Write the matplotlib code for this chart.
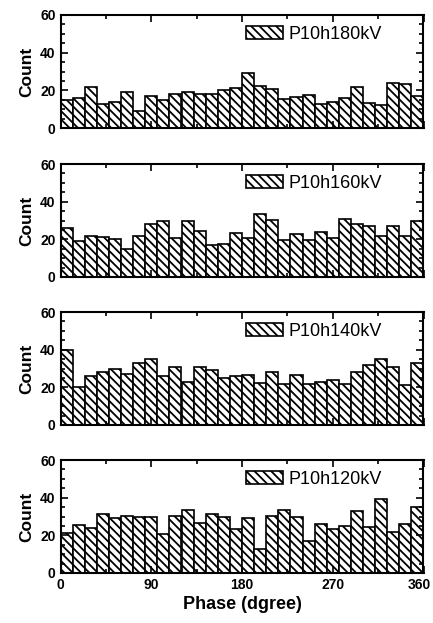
import numpy as np
import matplotlib.pyplot as plt
from matplotlib.ticker import MultipleLocator

plt.rcParams['font.family'] = ['Liberation Sans', 'DejaVu Sans']
plt.rcParams['hatch.linewidth'] = 1.3

# 30 bins of 12 degrees each
bin_width = 12
phase = np.arange(0, 360, bin_width)

labels = ["P10h180kV", "P10h160kV", "P10h140kV", "P10h120kV"]
xticks = [0, 90, 180, 270, 360]

count_180 = [15, 16, 22, 13, 14, 19, 9, 17, 15, 18, 19, 18, 18, 20, 21,
             29, 22.5, 20.5, 15.5, 16.5, 17.5, 13, 14, 16, 22, 13.5, 12, 24, 23.5, 17]
count_160 = [26, 19, 22, 21, 20, 15, 22, 28, 30, 20.5, 30, 24.5, 17, 17.5, 23.5,
             20.5, 33.5, 30.5, 19.5, 23, 19.5, 24, 20.5, 31, 28, 27, 22, 27, 22, 30]
count_140 = [40, 20, 26, 28, 30, 27, 33, 35, 26, 31, 23, 31, 29, 25, 26,
             26.5, 22.5, 28, 22, 26.5, 22, 23, 24, 22, 28, 32, 35, 31, 21, 33]
count_120 = [21, 25.5, 24, 31.5, 29, 30.5, 29.5, 29.5, 20.5, 30.5, 33.5, 26.5, 31.5, 29.5, 23.5,
             29, 12.5, 30.5, 33.5, 30, 17, 26, 23.5, 25, 33, 24.5, 39.5, 22, 26, 35]

series = [count_180, count_160, count_140, count_120]

fig = plt.figure(figsize=(4.33, 6.23), dpi=100)
W, H = 433, 623
tops = [15, 164, 312, 460]
panel_h = 113
left, right = 60.5, 423.5

for i, (lab, counts) in enumerate(zip(labels, series)):
    ax = fig.add_axes([left / W, 1 - (tops[i] + panel_h) / H,
                       (right - left) / W, panel_h / H])
    ax.bar(phase, counts, width=bin_width, align='edge', color='white',
           edgecolor='black', linewidth=1.2, hatch='\\\\\\\\', label=lab)
    ax.set_xlim(0, 360)
    ax.set_ylim(0, 60)
    ax.set_xticks(xticks)
    ax.xaxis.set_minor_locator(MultipleLocator(45))
    ax.yaxis.set_major_locator(MultipleLocator(20))
    ax.yaxis.set_minor_locator(MultipleLocator(5))
    ax.tick_params(which='both', direction='in', top=True, right=True, width=1.2)
    ax.tick_params(which='major', length=5, labelsize=10)
    ax.tick_params(which='minor', length=3)
    for s in ax.spines.values():
        s.set_linewidth(1.5)
    for t in ax.get_yticklabels():
        t.set_fontweight('bold')
    ax.set_ylabel("Count", fontsize=12.5, fontweight='bold', labelpad=4)
    if i < 3:
        ax.set_xticklabels([])
    else:
        # last label drawn separately, nudged left so it stays inside the figure
        ax.set_xticklabels([str(v) for v in xticks[:-1]] + [""], fontweight='bold')
        ax.annotate(str(xticks[-1]), xy=(xticks[-1], 0),
                    xycoords=('data', 'axes fraction'), xytext=(-3, -3.5),
                    textcoords='offset points', ha='center', va='top',
                    fontsize=10, fontweight='bold')
        ax.set_xlabel("Phase (dgree)", fontsize=13, fontweight='bold', labelpad=3)
    ax.legend(loc='center left', bbox_to_anchor=(0.51, 0.83), frameon=False,
              fontsize=13, handlelength=2.05, handleheight=0.72,
              handletextpad=0.3, borderpad=0, borderaxespad=0)

fig.savefig("out.png", dpi=100)
